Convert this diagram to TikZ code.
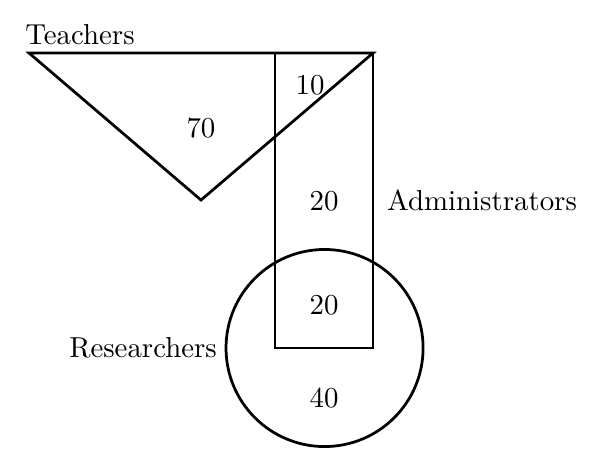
\documentclass[tikz,border=0pt]{standalone}
\usepackage{amsmath,amssymb}
\usepackage{xcolor}
\usepackage{tikz}
\definecolor{ink}{HTML}{000000}
\tikzset{
  fig/.style={draw=ink, line width=1pt},
  lbl/.style={text=ink, inner sep=0pt, font=\fontsize{10.5}{12}\selectfont}
}
\begin{document}
\begin{tikzpicture}
\useasboundingbox (0,0) rectangle (7.672,5.908);
% teachers triangle
\coordinate (tl) at (0.371,5.230);
\coordinate (tr) at (4.770,5.230);
\coordinate (tb) at (2.570,3.350);
\draw[fig, line join=miter] (tl)--(tr)--(tb)--cycle;

% administrators box
\coordinate (al) at (3.517,5.230);
\coordinate (ab) at (4.770,1.458);
\draw[fig] (al) rectangle (ab);

% researchers circle
\coordinate (rc) at (4.150,1.458);
\draw[fig] (rc) circle (1.260);

% labels
\node[lbl] (teach) at (1.023,5.467) {Teachers};
\node[lbl] (admin) at (6.164,3.350) {Administrators};
\node[lbl] (res) at (1.829,1.458) {Researchers};
\node[lbl] (n70) at (2.570,4.271) {70};
\node[lbl] (n10) at (3.964,4.821) {10};
\node[lbl] (n20a) at (4.143,3.338) {20};
\node[lbl] (n20b) at (4.143,2.008) {20};
\node[lbl] (n40) at (4.143,0.818) {40};
\end{tikzpicture}
\end{document}
